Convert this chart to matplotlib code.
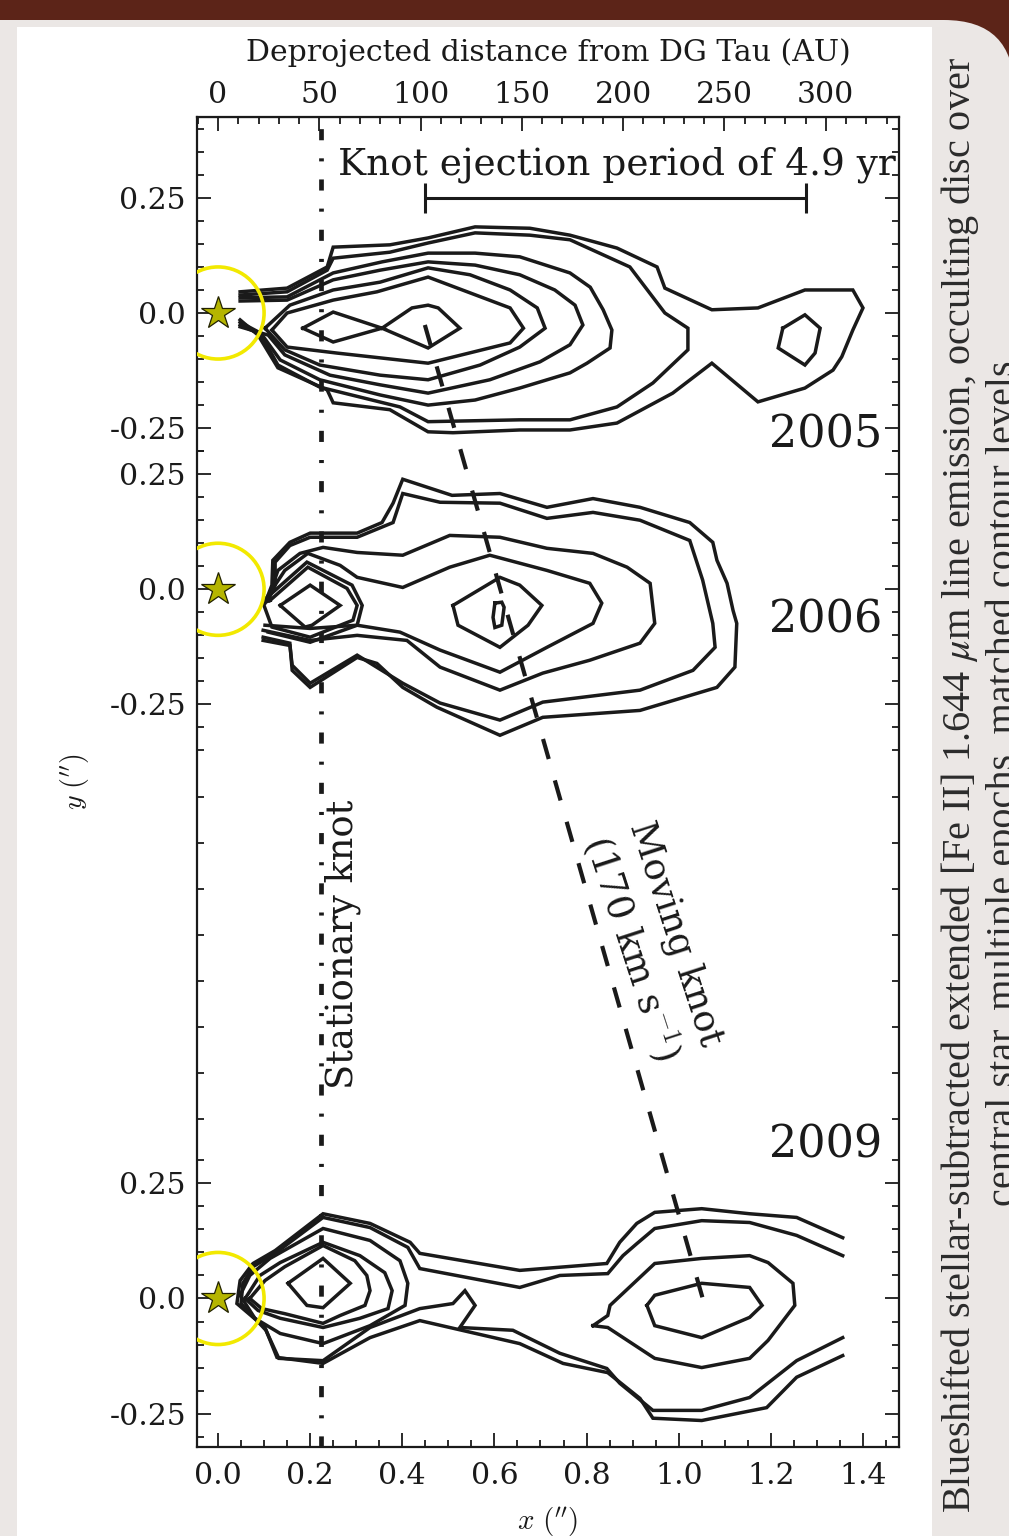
import matplotlib
matplotlib.use("Agg")
import matplotlib.pyplot as plt
from matplotlib.patches import Circle, FancyBboxPatch, Rectangle
from matplotlib.transforms import IdentityTransform
from matplotlib.ticker import FixedLocator, FixedFormatter, MultipleLocator

plt.rcParams['font.family'] = ['DejaVu Serif']
plt.rcParams['mathtext.fontset'] = 'cm'
plt.rcParams['lines.scale_dashes'] = False

# ---------------- data ----------------
epochs = ['2005', '2006', '2009']
epoch_offsets = [0.0, -0.6, -2.14]          # vertical offset of each epoch panel (arcsec)
ytick_values = [0.25, 0.0, -0.25]
ytick_labels = ['0.25', '0.0', '-0.25']
xtick_values = [0.0, 0.2, 0.4, 0.6, 0.8, 1.0, 1.2, 1.4]
xtick_labels = ['0.0', '0.2', '0.4', '0.6', '0.8', '1.0', '1.2', '1.4']
au_tick_values = [0, 50, 100, 150, 200, 250, 300]
au_per_arcsec = 227.4

stationary_knot_x = 0.2236
moving_knot_x = [0.449, 1.053]
moving_knot_y = [-0.026, -2.143]
ejection_bar_x = [0.449, 1.276]
ejection_bar_y = 0.25
occulting_radius = 0.1

# contour vertices (x, y) in arcsec, y relative to each epoch's centre
c05_1 = [(0.048,0.046),(0.150,0.054),(0.237,0.100),(0.250,0.143),(0.373,0.148),(0.456,0.163),(0.558,0.187),(0.677,0.184),(0.764,0.169),(0.866,0.141),(0.953,0.100),(0.970,0.054),(1.072,0.007),(1.172,0.011),(1.274,0.050),(1.378,0.050),(1.400,0.011),(1.378,-0.037),(1.354,-0.095),(1.335,-0.124),(1.274,-0.163),(1.172,-0.193),(1.072,-0.109),(0.987,-0.174),(0.866,-0.239),(0.764,-0.254),(0.655,-0.254),(0.510,-0.260),(0.456,-0.258),(0.373,-0.210),(0.250,-0.195),(0.237,-0.167),(0.130,-0.119),(0.087,-0.048),(0.048,-0.015)]
c05_2 = [(0.048,0.039),(0.150,0.046),(0.237,0.093),(0.250,0.119),(0.373,0.132),(0.456,0.152),(0.558,0.174),(0.677,0.169),(0.764,0.159),(0.894,0.100),(0.970,0.000),(1.020,-0.033),(1.020,-0.080),(0.944,-0.152),(0.866,-0.204),(0.764,-0.232),(0.655,-0.232),(0.456,-0.236),(0.395,-0.204),(0.221,-0.161),(0.130,-0.113),(0.091,-0.043),(0.048,-0.020)]
c05_3 = [(0.048,0.033),(0.150,0.035),(0.250,0.087),(0.356,0.111),(0.456,0.130),(0.558,0.130),(0.655,0.122),(0.764,0.087),(0.808,0.056),(0.836,0.007),(0.855,-0.037),(0.851,-0.076),(0.801,-0.109),(0.764,-0.130),(0.655,-0.163),(0.558,-0.189),(0.456,-0.200),(0.352,-0.178),(0.221,-0.145),(0.135,-0.102),(0.096,-0.048),(0.048,-0.026)]
c05_4 = [(0.048,0.026),(0.150,0.028),(0.250,0.072),(0.352,0.093),(0.456,0.111),(0.558,0.104),(0.655,0.083),(0.731,0.050),(0.775,0.017),(0.792,-0.026),(0.764,-0.069),(0.699,-0.106),(0.590,-0.145),(0.456,-0.174),(0.352,-0.156),(0.243,-0.135),(0.145,-0.091),(0.109,-0.048),(0.048,-0.030)]
c05_5 = [(0.102,-0.033),(0.156,0.017),(0.250,0.050),(0.352,0.067),(0.456,0.098),(0.547,0.083),(0.634,0.050),(0.693,0.011),(0.710,-0.033),(0.655,-0.074),(0.569,-0.113),(0.456,-0.145),(0.352,-0.135),(0.221,-0.113),(0.145,-0.080),(0.102,-0.033)]
c05_6 = [(0.117,-0.037),(0.150,0.000),(0.250,0.028),(0.345,0.046),(0.456,0.078),(0.634,0.011),(0.663,-0.033),(0.634,-0.065),(0.456,-0.109),(0.258,-0.087),(0.150,-0.074),(0.117,-0.037)]
c05_7a = [(0.184,-0.033),(0.250,0.002),(0.356,-0.033),(0.250,-0.063),(0.184,-0.033)]
c05_7b = [(0.356,-0.033),(0.421,0.011),(0.456,0.017),(0.478,0.011),(0.525,-0.033),(0.456,-0.076),(0.356,-0.033)]
c05_7c = [(1.226,-0.033),(1.274,-0.004),(1.307,-0.033),(1.296,-0.087),(1.274,-0.113),(1.216,-0.076),(1.226,-0.033)]

c06_1 = [(0.102,-0.030),(0.117,0.009),(0.119,0.063),(0.156,0.102),(0.200,0.122),(0.302,0.122),(0.356,0.145),(0.380,0.187),(0.401,0.239),(0.508,0.204),(0.612,0.208),(0.714,0.178),(0.814,0.197),(0.916,0.178),(1.024,0.145),(1.074,0.102),(1.083,0.063),(1.105,0.013),(1.118,-0.046),(1.126,-0.074),(1.122,-0.169),(1.083,-0.213),(0.916,-0.263),(0.705,-0.278),(0.612,-0.317),(0.475,-0.256),(0.401,-0.213),(0.345,-0.161),(0.302,-0.148),(0.200,-0.213),(0.161,-0.176),(0.156,-0.117),(0.098,-0.104)]
c06_2 = [(0.109,-0.024),(0.124,0.009),(0.124,0.059),(0.156,0.095),(0.200,0.113),(0.302,0.113),(0.380,0.145),(0.401,0.208),(0.482,0.189),(0.612,0.187),(0.714,0.154),(0.814,0.167),(0.916,0.150),(1.024,0.106),(1.052,0.020),(1.074,-0.074),(1.079,-0.126),(1.031,-0.176),(0.916,-0.219),(0.705,-0.245),(0.612,-0.284),(0.482,-0.247),(0.401,-0.204),(0.302,-0.143),(0.200,-0.204),(0.161,-0.165),(0.156,-0.122),(0.098,-0.111)]
c06_3 = [(0.109,-0.020),(0.130,0.041),(0.178,0.078),(0.228,0.091),(0.302,0.080),(0.401,0.074),(0.503,0.117),(0.612,0.113),(0.714,0.089),(0.814,0.078),(0.888,0.048),(0.938,0.013),(0.948,-0.074),(0.916,-0.117),(0.807,-0.154),(0.705,-0.182),(0.612,-0.219),(0.482,-0.169),(0.410,-0.111),(0.302,-0.100),(0.200,-0.111),(0.098,-0.089)]
c06_4 = [(0.102,-0.024),(0.145,0.041),(0.195,0.078),(0.265,0.052),(0.302,0.026),(0.401,0.004),(0.503,0.048),(0.590,0.074),(0.714,0.041),(0.807,0.013),(0.833,-0.030),(0.814,-0.074),(0.714,-0.126),(0.612,-0.180),(0.482,-0.132),(0.395,-0.093),(0.302,-0.078),(0.200,-0.085),(0.102,-0.078)]
c06_5 = [(0.510,-0.035),(0.612,0.026),(0.655,0.009),(0.703,-0.035),(0.673,-0.078),(0.612,-0.126),(0.521,-0.078),(0.510,-0.035)]
c06_6 = [(0.601,-0.030),(0.616,-0.028),(0.621,-0.039),(0.616,-0.078),(0.601,-0.083),(0.597,-0.061),(0.601,-0.030)]
c06_k1 = [(0.135,-0.035),(0.200,0.009),(0.265,-0.035),(0.204,-0.078),(0.189,-0.082),(0.135,-0.035)]
c06_k2 = [(0.113,-0.024),(0.195,0.048),(0.280,0.002),(0.302,-0.035),(0.293,-0.067),(0.200,-0.104),(0.117,-0.082),(0.098,-0.030),(0.113,-0.024)]
c06_k3 = [(0.104,-0.020),(0.193,0.059),(0.291,0.009),(0.313,-0.035),(0.302,-0.078),(0.200,-0.115),(0.109,-0.093)]

c09_1 = [(1.356,0.132),(1.256,0.176),(1.154,0.184),(1.050,0.195),(0.948,0.187),(0.909,0.163),(0.872,0.122),(0.844,0.076),(0.655,0.061),(0.438,0.098),(0.417,0.122),(0.330,0.163),(0.228,0.184),(0.124,0.104),(0.076,0.076),(0.048,0.039),(0.041,-0.011),(0.102,-0.063),(0.128,-0.128),(0.228,-0.141),(0.330,-0.085),(0.438,-0.048),(0.655,-0.098),(0.749,-0.141),(0.846,-0.161),(0.916,-0.217),(0.944,-0.260),(1.050,-0.265),(1.191,-0.237),(1.256,-0.171),(1.356,-0.124)]
c09_2 = [(1.356,0.093),(1.256,0.137),(1.154,0.165),(1.050,0.169),(0.948,0.152),(0.909,0.119),(0.879,0.093),(0.846,0.054),(0.742,0.050),(0.655,0.024),(0.438,0.065),(0.412,0.111),(0.330,0.154),(0.228,0.176),(0.124,0.098),(0.076,0.069),(0.054,0.033),(0.050,-0.011),(0.104,-0.069),(0.132,-0.130),(0.228,-0.135),(0.330,-0.063),(0.438,-0.022),(0.510,-0.011),(0.536,0.017),(0.558,-0.015),(0.525,-0.063),(0.640,-0.069),(0.742,-0.119),(0.844,-0.152),(0.872,-0.184),(0.944,-0.243),(1.050,-0.243),(1.154,-0.215),(1.256,-0.135),(1.356,-0.085)]
c09_3 = [(0.048,0.007),(0.069,0.050),(0.113,0.087),(0.228,0.152),(0.330,0.126),(0.395,0.082),(0.412,0.033),(0.406,-0.015),(0.330,-0.059),(0.228,-0.098),(0.135,-0.076),(0.080,-0.043),(0.048,0.007)]
c09_4 = [(0.059,0.000),(0.091,0.050),(0.135,0.078),(0.228,0.122),(0.308,0.093),(0.362,0.056),(0.378,0.017),(0.369,-0.022),(0.308,-0.043),(0.228,-0.063),(0.135,-0.043),(0.087,-0.026),(0.059,0.000)]
c09_5 = [(0.069,0.000),(0.102,0.039),(0.145,0.069),(0.228,0.115),(0.297,0.082),(0.323,0.050),(0.330,0.017),(0.319,-0.015),(0.265,-0.037),(0.228,-0.054),(0.145,-0.033),(0.095,-0.022),(0.069,0.000)]
c09_6 = [(0.152,0.033),(0.228,0.087),(0.287,0.033),(0.228,-0.020),(0.193,-0.015),(0.152,0.033)]
c09_m1 = [(0.814,-0.059),(0.846,-0.037),(0.851,-0.015),(0.948,0.076),(1.050,0.087),(1.154,0.093),(1.194,0.078),(1.248,0.033),(1.252,-0.015),(1.194,-0.091),(1.154,-0.130),(1.050,-0.150),(0.948,-0.130),(0.846,-0.063),(0.814,-0.059)]
c09_m2 = [(0.931,-0.015),(0.948,0.007),(1.050,0.033),(1.154,0.024),(1.181,-0.015),(1.154,-0.041),(1.050,-0.085),(0.948,-0.059),(0.931,-0.015)]

contours_2005 = [c05_1, c05_2, c05_3, c05_4, c05_5, c05_6, c05_7a, c05_7b, c05_7c]
contours_2006 = [c06_1, c06_2, c06_3, c06_4, c06_5, c06_6, c06_k1, c06_k2, c06_k3]
contours_2009 = [c09_1, c09_2, c09_3, c09_4, c09_5, c09_6, c09_m1, c09_m2]

caption_line1 = r'Blueshifted stellar-subtracted extended [Fe II] 1.644 $\mu$m line emission, occulting disc over'
caption_line2 = 'central star, multiple epochs, matched contour levels'

# ---------------- figure ----------------
W, H = 1009, 1536
fig = plt.figure(figsize=(W / 100, H / 100), dpi=100)
fig.patch.set_facecolor('#5c2418')

page = FancyBboxPatch((-80, -80), 1094, H - 20 + 80,
                      boxstyle='round,pad=0,rounding_size=70',
                      transform=IdentityTransform(), facecolor='#ebe7e5',
                      edgecolor='none', zorder=-10)
fig.add_artist(page)
panel = Rectangle((17, 0), 915, H - 27, transform=IdentityTransform(),
                  facecolor='white', edgecolor='none', zorder=-9)
fig.add_artist(panel)

ink = '#1a1a1a'
ax = fig.add_axes([197 / W, (H - 1447) / H, 702 / W, 1330 / H])
ax.set_xlim(-0.0456, 1.4782)
ax.set_ylim(-2.4625, 0.4256)

for off, group in zip(epoch_offsets, [contours_2005, contours_2006, contours_2009]):
    for c in group:
        xs = [p[0] for p in c]
        ys = [p[1] + off for p in c]
        ax.plot(xs, ys, color=ink, lw=2.5, solid_joinstyle='miter', zorder=3)
    ax.add_patch(Circle((0.0, off), occulting_radius, fill=False, ec='#f2e900',
                        lw=2.6, clip_on=True, zorder=4))
    ax.plot([0.0], [off], marker='*', ms=25, mfc='#b5b500', mec='#222200',
            mew=0.9, clip_on=False, zorder=5)

for off, lab, ty in zip(epoch_offsets, epochs, [-0.265, -0.067, 0.333]):
    ax.text(1.441, off + ty, lab, ha='right', va='center', fontsize=32, color=ink)

ax.axvline(stationary_knot_x, color=ink, lw=3.4, ls=(0, (8.0, 13.0, 2.2, 13.0)),
           dash_capstyle='butt', zorder=2)
ax.plot(moving_knot_x, moving_knot_y, color=ink, lw=3.0, ls=(0, (15, 16)),
        dash_capstyle='butt', zorder=2)

ax.errorbar([(ejection_bar_x[0] + ejection_bar_x[1]) / 2], [ejection_bar_y],
            xerr=[(ejection_bar_x[1] - ejection_bar_x[0]) / 2], color=ink,
            lw=2.2, capsize=11, capthick=2.2, zorder=3)
ax.text(0.26, 0.321, 'Knot ejection period of 4.9 yr', ha='left', va='center',
        fontsize=27, color=ink)
ax.text(0.271, -1.37, 'Stationary knot', rotation=90, ha='center', va='center',
        fontsize=26.5, color=ink)
ax.text(0.944, -1.364, 'Moving knot\n(170 km s$^{-1}$)', rotation=-72,
        ha='center', va='center', multialignment='center', fontsize=26.5,
        color=ink, linespacing=1.15)

# ---------------- ticks ----------------
major_y, major_lab = [], []
for off in epoch_offsets:
    for v, lab in zip(ytick_values, ytick_labels):
        major_y.append(off + v)
        major_lab.append(lab)
minor_y = []
for off, krange in zip(epoch_offsets, [range(-6, 9), range(-6, 7), range(-6, 7)]):
    for k in krange:
        minor_y.append(off + 0.05 * k)
gap_top = epoch_offsets[1] - 0.35
while gap_top > epoch_offsets[2] + 0.33:
    minor_y.append(gap_top)
    gap_top -= 0.1

ax.yaxis.set_major_locator(FixedLocator(major_y))
ax.yaxis.set_major_formatter(FixedFormatter(major_lab))
ax.yaxis.set_minor_locator(FixedLocator(minor_y))
ax.xaxis.set_major_locator(FixedLocator(xtick_values))
ax.xaxis.set_major_formatter(FixedFormatter(xtick_labels))
ax.xaxis.set_minor_locator(MultipleLocator(0.05))

ax.tick_params(which='both', direction='in', top=False, right=True, color=ink,
               width=1.3)
ax.tick_params(which='major', length=10)
ax.tick_params(which='minor', length=5)
ax.tick_params(axis='y', which='major', labelsize=21.5, pad=8, labelcolor=ink)
ax.tick_params(axis='x', which='major', labelsize=21.5, pad=11, labelcolor=ink)
for s in ax.spines.values():
    s.set_linewidth(1.6)
    s.set_color(ink)

secax = ax.secondary_xaxis('top', functions=(lambda a: a * au_per_arcsec,
                                             lambda d: d / au_per_arcsec))
secax.xaxis.set_major_locator(FixedLocator(au_tick_values))
secax.xaxis.set_major_formatter(FixedFormatter([str(v) for v in au_tick_values]))
secax.xaxis.set_minor_locator(MultipleLocator(10))
secax.tick_params(which='both', direction='in', color=ink, width=1.3)
secax.tick_params(which='major', length=10, labelsize=21.5, pad=5.5, labelcolor=ink)
secax.tick_params(which='minor', length=5)
secax.set_xlabel('Deprojected distance from DG Tau (AU)', fontsize=21.5,
                 color=ink, labelpad=15)

ax.set_xlabel(r'$x\ (^{\prime\prime})$', fontsize=21, color=ink)
ax.xaxis.set_label_coords(0.5, -0.0436)
ax.set_ylabel(r'$y\ (^{\prime\prime})$', fontsize=20, color=ink)
ax.yaxis.label.set_va('center')
ax.yaxis.set_label_coords(-0.174, 0.5)

# ---------------- caption ----------------
fig.text(960 / W, 1 - 785 / H, caption_line1, rotation=90, ha='center', va='center',
         fontsize=29, color='#2b2b2b', family=['Liberation Serif'],
         math_fontfamily='stix')
fig.text(1004 / W, 1 - 783 / H, caption_line2, rotation=90, ha='center', va='center',
         fontsize=29, color='#2b2b2b', family=['Liberation Serif'])

fig.savefig('out.png', dpi=100, facecolor=fig.get_facecolor())
